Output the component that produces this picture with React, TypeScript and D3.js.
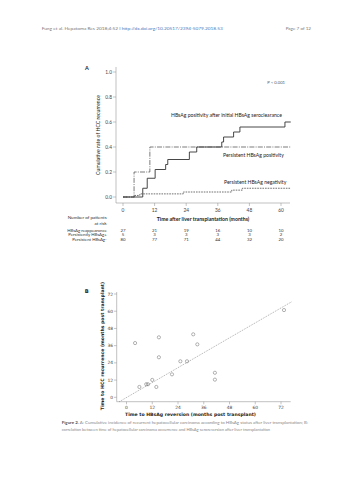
import * as d3 from 'd3';

// Panel A: Kaplan-Meier style cumulative curves
const reappTimes = [0, 7.5, 9.2, 12.2, 16.2, 17, 25.2, 28, 37.5, 38.2, 42, 44.4, 61.5, 63.7];
const reappRates = [0, 0.07, 0.15, 0.22, 0.26, 0.3, 0.36, 0.4, 0.44, 0.48, 0.52, 0.56, 0.6, 0.6];
const posTimes = [0, 4.2, 10.2, 63.7];
const posRates = [0, 0.2, 0.4, 0.4];
const negTimes = [0, 4.4, 6.4, 22.9, 41.3, 45.3, 63.7];
const negRates = [0, 0.0125, 0.025, 0.04, 0.055, 0.07, 0.07];

const aXTicks = [0, 12, 24, 36, 48, 60];
const aYTicks = [0, 0.2, 0.4, 0.6, 0.8, 1.0];

const riskLabels = ['HBsAg reappearance', 'Persistently HBsAg+', 'Persistent HBsAg-'];
const riskReapp = [27, 21, 19, 16, 10, 10];
const riskPos = [5, 3, 3, 3, 3, 2];
const riskNeg = [80, 77, 71, 44, 32, 20];

// Panel B: scatter of reversion time vs recurrence time
const revMonths = [4.0, 15.1, 15.1, 25.1, 28.2, 31.1, 33.0, 21.2, 12.0, 9.2, 10.0, 6.0, 13.9, 41.2, 41.2, 73.4];
const recMonths = [37.8, 41.8, 27.9, 25.1, 25.1, 43.9, 36.9, 16.0, 12.1, 9.1, 9.1, 7.2, 7.2, 17.1, 12.3, 60.8];
const fitSlope = 0.867;
const fitIntercept = -0.15;
const bTicks = [0, 12, 24, 36, 48, 60, 72];

const FONT = 'Lato, "Open Sans", sans-serif';
const FONT_B = '"DejaVu Sans", Verdana, sans-serif';

export default function App() {
  // ---- panel A scales
  const xA = d3.scaleLinear().domain([0, 60]).range([123, 281]);
  const yA = d3.scaleLinear().domain([0, 1]).range([197, 72]);
  const step = d3.line<[number, number]>()
    .x(d => xA(d[0]))
    .y(d => yA(d[1]))
    .curve(d3.curveStepAfter);
  const zip = (t: number[], r: number[]) => t.map((v, i) => [v, r[i]] as [number, number]);

  // ---- panel B scales
  const xB = d3.scaleLinear().domain([0, 72]).range([126.5, 281]);
  const yB = d3.scaleLinear().domain([0, 72]).range([397.3, 294]);
  const fitX = [-3.4, 77];

  const riskRows = [riskReapp, riskPos, riskNeg];
  const riskY = [230, 234.7, 239.4];

  return (
    <svg width={353} height={480} style={{ position: 'absolute', left: 0, top: 0, background: '#fff' }}>
      {/* header */}
      <text x={41.7} y={30} fontSize={4.4} fill="#777" fontFamily={FONT} textLength={181} lengthAdjust="spacingAndGlyphs">
        Fung et al. Hepatoma Res 2018;4:52 I <tspan fill="#4a7bc0">http://dx.doi.org/10.20517/2394-5079.2018.53</tspan>
      </text>
      <text x={311} y={30} fontSize={4.6} fill="#777" fontFamily={FONT} textAnchor="end">
        Page 7 of 12
      </text>

      {/* ===== Panel A ===== */}
      <text x={87} y={70} fontSize={5.5} fontWeight="bold" fill="#222" fontFamily={FONT} textAnchor="middle">A</text>
      <line x1={116} x2={116} y1={67} y2={203} stroke="#999" strokeWidth={0.6} />
      <line x1={116} x2={290} y1={203} y2={203} stroke="#999" strokeWidth={0.6} />
      {aYTicks.map(t => (
        <g key={'ya' + t}>
          <line x1={113} x2={116} y1={yA(t)} y2={yA(t)} stroke="#888" strokeWidth={0.5} />
          <text x={112} y={yA(t)} dy="0.35em" fontSize={4.8} fill="#444" fontFamily={FONT} textAnchor="end">
            {t.toFixed(1)}
          </text>
        </g>
      ))}
      {aXTicks.map(t => (
        <g key={'xa' + t}>
          <line x1={xA(t)} x2={xA(t)} y1={203} y2={206} stroke="#888" strokeWidth={0.5} />
          <text x={xA(t)} y={211.5} fontSize={4.8} fill="#444" fontFamily={FONT} textAnchor="middle">{t}</text>
        </g>
      ))}
      <text transform="translate(100,135) rotate(-90)" fontSize={5.2} fill="#222" fontFamily={FONT} textAnchor="middle">
        Cumulative rate of HCC recurrence
      </text>

      <path d={step(zip(negTimes, negRates)) || ''} fill="none" stroke="#333" strokeWidth={0.7} strokeDasharray="1.6,1" />
      <path d={step(zip(posTimes, posRates)) || ''} fill="none" stroke="#444" strokeWidth={0.7} strokeDasharray="5,1.2,1,1.2" />
      <path d={step(zip(reappTimes, reappRates)) || ''} fill="none" stroke="#333" strokeWidth={0.9} />

      <text x={285} y={84} fontSize={4.2} fill="#555" fontFamily={FONT} textAnchor="end">P &lt; 0.001</text>
      <text x={171} y={117} fontSize={5.1} fill="#222" fontFamily={FONT}>
        HBsAg positivity after initial HBsAg seroclearance
      </text>
      <text x={223} y={157} fontSize={5.1} fill="#222" fontFamily={FONT}>Persistent HBsAg positivity</text>
      <text x={224} y={183.5} fontSize={5.1} fill="#222" fontFamily={FONT}>Persistent HBsAg negativity</text>

      {/* risk table */}
      <text x={106.7} y={219} fontSize={4.6} fill="#333" fontFamily={FONT} textAnchor="end">Number of patients</text>
      <text x={106.7} y={225} fontSize={4.6} fill="#333" fontFamily={FONT} textAnchor="end">at risk</text>
      <text x={203} y={220.5} fontSize={5.2} fontWeight="bold" fill="#222" fontFamily={FONT} textAnchor="middle">
        Time after liver transplantation (months)
      </text>
      {riskLabels.map((lab, i) => (
        <g key={lab}>
          <text x={106.7} y={riskY[i] + 1.5} fontSize={4.3} fill="#333" fontFamily={FONT} textAnchor="end">{lab}</text>
          {riskRows[i].map((v, j) => (
            <text key={j} x={xA(aXTicks[j])} y={riskY[i] + 1.5} fontSize={4.3} fill="#333" fontFamily={FONT} textAnchor="middle">
              {v}
            </text>
          ))}
        </g>
      ))}

      {/* ===== Panel B ===== */}
      <text x={86.7} y={293} fontSize={5.2} fontWeight="bold" fill="#222" fontFamily={FONT_B} textAnchor="middle">B</text>
      <line x1={116.7} x2={116.7} y1={292} y2={401.7} stroke="#999" strokeWidth={0.6} />
      <line x1={116.7} x2={290.7} y1={401.7} y2={401.7} stroke="#999" strokeWidth={0.6} />
      {bTicks.map(t => (
        <g key={'yb' + t}>
          <line x1={114} x2={116.7} y1={yB(t)} y2={yB(t)} stroke="#888" strokeWidth={0.5} />
          <text x={113} y={yB(t)} dy="0.35em" fontSize={4.4} fill="#444" fontFamily={FONT_B} textAnchor="end">{t}</text>
          <line x1={xB(t)} x2={xB(t)} y1={401.7} y2={404.3} stroke="#888" strokeWidth={0.5} />
          <text x={xB(t)} y={408.5} fontSize={4.4} fill="#444" fontFamily={FONT_B} textAnchor="middle">{t}</text>
        </g>
      ))}
      <text transform="translate(104,346) rotate(-90)" fontSize={4.6} fontWeight="bold" fill="#222" fontFamily={FONT_B} textAnchor="middle">
        Time to HCC recurrence (months post transplant)
      </text>
      <text x={190.5} y={415.5} fontSize={4.6} fontWeight="bold" fill="#222" fontFamily={FONT_B} textAnchor="middle">
        Time to HBsAg reversion (months post transplant)
      </text>
      <line
        x1={xB(fitX[0])} y1={yB(fitSlope * fitX[0] + fitIntercept)}
        x2={xB(fitX[1])} y2={yB(fitSlope * fitX[1] + fitIntercept)}
        stroke="#777" strokeWidth={0.6} strokeDasharray="1,1"
      />
      {revMonths.map((v, i) => (
        <circle key={i} cx={xB(v)} cy={yB(recMonths[i])} r={1.6} fill="none" stroke="#666" strokeWidth={0.5} />
      ))}

      {/* caption */}
      <text x={61.7} y={424} fontSize={4.3} fill="#888" fontFamily={FONT} textLength={246.3} lengthAdjust="spacingAndGlyphs">
        <tspan fontWeight="bold" fill="#555">Figure 2. </tspan>
        A: Cumulative incidence of recurrent hepatocellular carcinoma according to HBsAg status after liver transplantation; B:
      </text>
      <text x={61.7} y={430.5} fontSize={4.3} fill="#888" fontFamily={FONT} textLength={208.3} lengthAdjust="spacingAndGlyphs">
        correlation between time of hepatocellular carcinoma occurrence and HBsAg seroreversion after liver transplantation
      </text>
    </svg>
  );
}
